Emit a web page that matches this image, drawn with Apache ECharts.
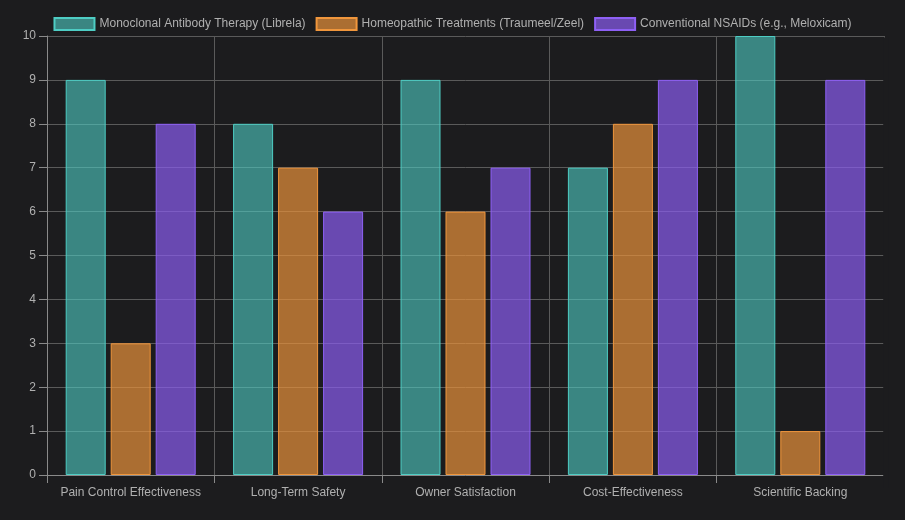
<!DOCTYPE html>
<html>
<head>
<meta charset="utf-8">
<script src="https://cdn.jsdelivr.net/npm/echarts@6/dist/echarts.min.js"></script>
<style>
html,body{margin:0;padding:0;background:#1c1c1e;}
#chart{width:905px;height:520px;}
</style>
</head>
<body>
<div id="chart"></div>
<script>
const categories = ["Pain Control Effectiveness", "Long-Term Safety", "Owner Satisfaction", "Cost-Effectiveness", "Scientific Backing"];
const seriesNames = ["Monoclonal Antibody Therapy (Librela)", "Homeopathic Treatments (Traumeel/Zeel)", "Conventional NSAIDs (e.g., Meloxicam)"];
const librela = [9, 8, 9, 7, 10];
const homeopathic = [3, 7, 6, 8, 1];
const nsaids = [8, 6, 7, 9, 9];
const yTicks = [0, 1, 2, 3, 4, 5, 6, 7, 8, 9, 10];

const fills = ["rgba(78,205,196,0.6)", "rgba(232,145,58,0.7)", "rgba(138,92,240,0.7)"];
const borders = ["#4ecdc4", "#f0963c", "#8e60f5"];
const values = [librela, homeopathic, nsaids];

const chart = echarts.init(document.getElementById('chart'));
const font = "Liberation Sans, Arial, Helvetica, sans-serif";
chart.setOption({
  backgroundColor: '#1c1c1e',
  animation: false,
  textStyle: { fontFamily: font },
  legend: {
    top: 12,
    left: 'center',
    itemWidth: 40,
    itemHeight: 12,
    itemGap: 10,
    icon: 'rect',
    textStyle: { color: '#b0b0b0', fontSize: 12, fontFamily: font },
    data: seriesNames
  },
  grid: { left: 47, right: 21, top: 36, bottom: 45, containLabel: false },
  graphic: [{
    type: 'rect',
    shape: { x: 883.2, y: 37.5, width: 5, height: 450 },
    style: { fill: '#1c1c1e' },
    z: 100
  }],
  xAxis: {
    type: 'category',
    data: categories,
    axisLine: { show: true, lineStyle: { color: '#8a8a8a' } },
    axisTick: { show: true, interval: 0, alignWithLabel: false, length: 8, lineStyle: { color: '#8a8a8a' } },
    splitLine: { show: true, interval: 0, lineStyle: { color: '#5a5a5a' } },
    axisLabel: { color: '#b0b0b0', fontSize: 12, margin: 12, interval: 0, fontFamily: font }
  },
  yAxis: {
    type: 'value',
    min: yTicks[0],
    max: yTicks[yTicks.length - 1],
    interval: 1,
    axisLine: { show: true, lineStyle: { color: '#8a8a8a' } },
    axisTick: { show: true, length: 8, lineStyle: { color: '#8a8a8a' } },
    splitLine: { show: true, lineStyle: { color: '#5a5a5a' } },
    axisLabel: { color: '#b0b0b0', fontSize: 12, margin: 11, fontFamily: font }
  },
  series: seriesNames.map((name, i) => ({
    name: name,
    type: 'bar',
    data: values[i],
    barWidth: 40,
    barGap: '12.5%',
    itemStyle: { color: fills[i], borderColor: borders[i], borderWidth: 1 }
  }))
});
</script>
</body>
</html>
